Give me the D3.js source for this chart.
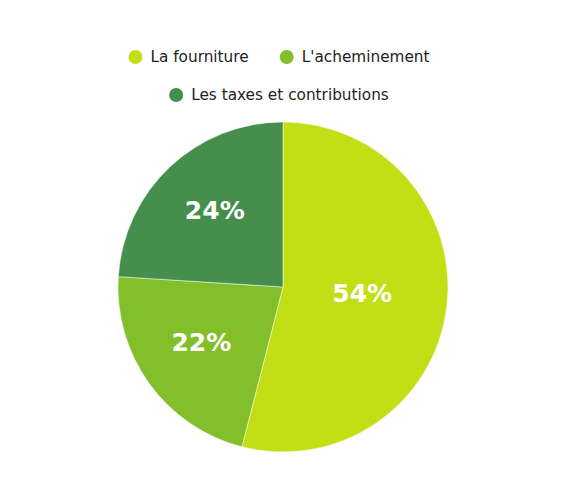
<!DOCTYPE html>
<html>
<head>
<meta charset="utf-8">
<script src="https://cdn.jsdelivr.net/npm/d3@7"></script>
<style>
  html, body { margin: 0; padding: 0; background: #fff; }
  svg { display: block; }
</style>
</head>
<body>
<svg id="chart" width="566" height="500"></svg>
<script>
/* ---- data ------------------------------------------------------- */
const categories = ["La fourniture", "L'acheminement", "Les taxes et contributions"];
const shares     = [54, 22, 24];
const colours    = ["#c2df16", "#82bf2a", "#458e4c"];

/* ---- layout ----------------------------------------------------- */
const width = 566, height = 500;
const cx = 283, cy = 287, radius = 165;
const font = "'DejaVu Sans', sans-serif";

const svg = d3.select("#chart");

const data = categories.map((c, i) => ({ name: c, value: shares[i], colour: colours[i] }));

/* ---- pie -------------------------------------------------------- */
const pie = d3.pie().sort(null).value(d => d.value);
const arc = d3.arc().innerRadius(0).outerRadius(radius);
// bigger slices keep their label a little closer to the centre
const labelR = d => radius * (0.7 - 0.4 * d.data.value / 100);
const labelPos = d => d3.arc().innerRadius(labelR(d)).outerRadius(labelR(d)).centroid(d);

const pieG = svg.append("g").attr("transform", `translate(${cx},${cy})`);

pieG.selectAll("path")
  .data(pie(data))
  .join("path")
    .attr("d", arc)
    .attr("fill", d => d.data.colour)
    .attr("stroke", "#fff")
    .attr("stroke-width", 0.5);

pieG.selectAll("text")
  .data(pie(data))
  .join("text")
    .attr("transform", d => `translate(${labelPos(d)})`)
    .attr("text-anchor", "middle")
    .attr("dy", "0.2em")
    .attr("fill", "#fff")
    .attr("font-family", font)
    .attr("font-weight", "bold")
    .attr("font-size", 25)
    .text(d => `${d.data.value}%`);

/* ---- legend (wrapped rows, centred) ------------------------------ */
const legendFont = 15.3, dotR = 7, dotGap = 8, itemGap = 31, maxRow = 340;
const rowY = [57, 95];

const legendG = svg.append("g");
const items = legendG.selectAll("g.item")
  .data(data)
  .join("g")
    .attr("class", "item");

items.append("circle")
  .attr("r", dotR)
  .attr("cx", dotR)
  .attr("fill", d => d.colour);

items.append("text")
  .attr("x", dotR * 2 + dotGap)
  .attr("dy", "0.35em")
  .attr("font-family", font)
  .attr("font-size", legendFont)
  .attr("fill", "#222")
  .text(d => d.name);

// measure and wrap
const widths = [];
items.each(function () { widths.push(this.getBBox().width); });
const rows = [[]];
let rowW = 0;
widths.forEach((w, i) => {
  const add = rows[rows.length - 1].length ? itemGap + w : w;
  if (rowW + add > maxRow && rows[rows.length - 1].length) {
    rows.push([i]); rowW = w;
  } else {
    rows[rows.length - 1].push(i); rowW += add;
  }
});
const legendCx = 279;
rows.forEach((row, r) => {
  const total = d3.sum(row, i => widths[i]) + itemGap * (row.length - 1);
  let x = legendCx - total / 2;
  row.forEach(i => {
    d3.select(items.nodes()[i]).attr("transform", `translate(${x},${rowY[r]})`);
    x += widths[i] + itemGap;
  });
});
</script>
</body>
</html>
